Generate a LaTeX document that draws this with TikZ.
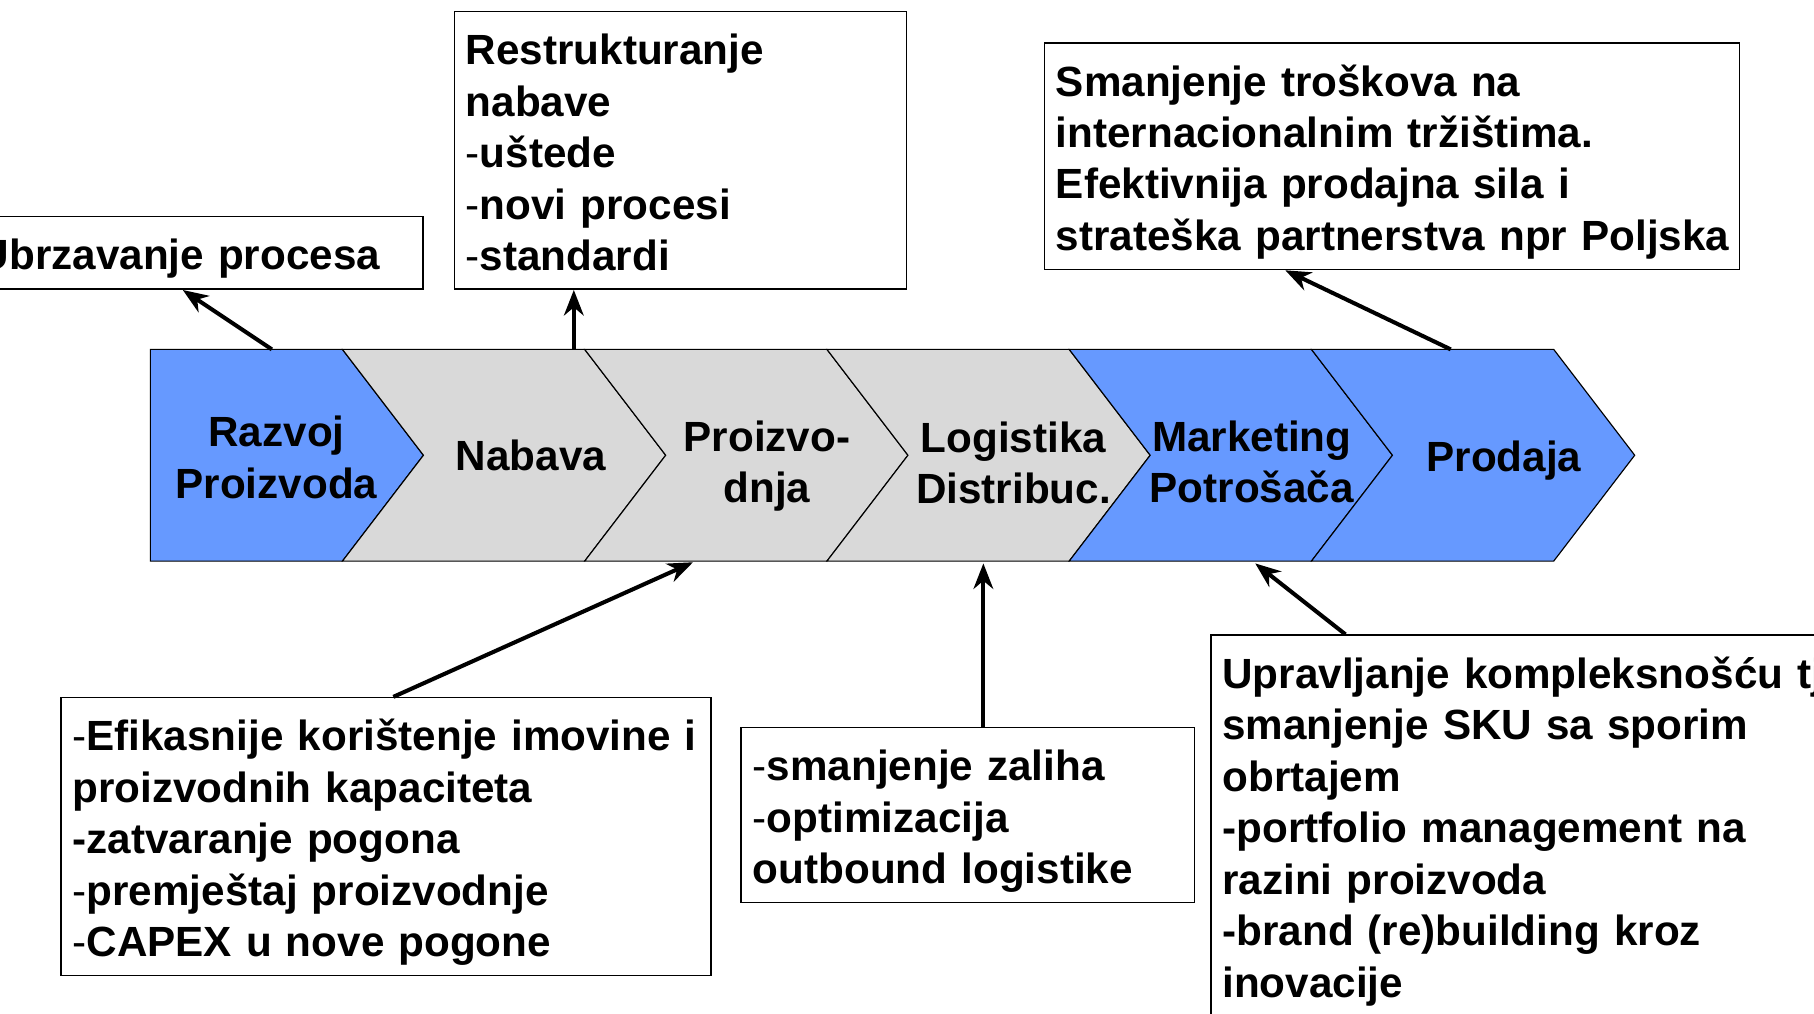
\documentclass[tikz,border=0pt]{standalone}
\usepackage{fontspec}
\setmainfont{Liberation Sans}
\usepackage{xcolor}
\usetikzlibrary{arrows.meta}

\definecolor{stageblue}{HTML}{6699FF}
\definecolor{stagegray}{HTML}{D9D9D9}
\newcommand{\hy}{{\mdseries -}}
\newcommand{\bigfont}{\fontsize{36.5}{44.5}\selectfont\bfseries}

\begin{document}
\begin{tikzpicture}[x=1pt,y=-1pt]
			\tikzstyle{stage} = [draw=black, line width=1pt, line join=miter]
			\tikzstyle{stagetext} = [font=\bigfont, align=center, inner sep=0pt]
			\tikzstyle{note} = [draw, line width=1.3pt, anchor=base west, align=left, inner xsep=10pt, inner ysep=0pt, text height=46pt, font=\bigfont]
			\tikzset{edge/.style = {line width=3.5pt, -{Stealth[length=22pt,width=17pt,inset=7pt]}}}
			
			\useasboundingbox (0,0) rectangle (1568,876);
			\clip (0,0) rectangle (1568,876);
			
			% value chain
			\path[stage, fill=stageblue] (130,302) -- (296,302) -- (366,393.5) -- (296,485) -- (130,485) -- cycle;
			\foreach \i/\col in {0/stagegray, 1/stagegray, 2/stagegray, 3/stageblue, 4/stageblue}
				\path[stage, fill=\col] ({296+209.4*\i},302) -- ({505.4+209.4*\i},302) -- ({575.4+209.4*\i},393.5)
					-- ({505.4+209.4*\i},485) -- ({296+209.4*\i},485) -- ({366+209.4*\i},393.5) -- cycle;
			
			\node[stagetext](razvoj) at (239,395.3) {Razvoj\\Proizvoda};
			\node[stagetext](nabava) at (459,393.7) {Nabava};
			\node[stagetext](proizvodnja) at (663,403) {Proizvo-\\dnja};
			\node[stagetext](logistika) at (876,400.3) {Logistika\\Distribuc.};
			\node[stagetext](marketing) at (1082,399.3) {Marketing\\Potrošača};
			\node[stagetext](prodaja) at (1300,398.5) {Prodaja};
			
			% notes
			\node[note, text width=374pt, text depth=17pt](ubrz) at (-29,233) {Ubrzavanje procesa};
			\node[note, text width=371pt, text depth=194pt](restr) at (392,56) {Restrukturanje\\nabave\\\hy uštede\\\hy novi procesi\\\hy standardi};
			\node[note, text width=581pt, text depth=150pt](smanj) at (902,83) {Smanjenje troškova na\\internacionalnim tržištima.\\Efektivnija prodajna sila i\\\mbox{strateška partnerstva npr Poljska}};
			\node[note, text width=542pt, text depth=194pt](efik) at (52,649) {\hy Efikasnije korištenje imovine i\\proizvodnih kapaciteta\\-zatvaranje pogona\\\hy premještaj proizvodnje\\\hy CAPEX u nove pogone};
			\node[note, text width=372pt, text depth=105pt](zaliha) at (640,675) {\hy smanjenje zaliha\\\hy optimizacija\\outbound logistike};
			\node[note, text width=600pt, text depth=320pt](uprav) at (1046,595) {Upravljanje kompleksnošću tj\\smanjenje SKU sa sporim\\obrtajem\\-portfolio management na\\razini proizvoda\\-brand (re)building kroz\\inovacije};
			
			% connectors
			\coordinate (t1) at (235,302);
			\coordinate (t2) at (496,302);
			\coordinate (t3) at (1254,302);
			\coordinate (h4) at (599,486);
			\coordinate (h5) at (850,487);
			\coordinate (h6) at (1085,487);
			\draw[edge](t1) to (ubrz.south -| 158,0);
			\draw[edge](t2) to (restr.south -| 496,0);
			\draw[edge](t3) to (smanj.south -| 1111,0);
			\draw[edge](efik.north -| 340,0) to (h4);
			\draw[edge](zaliha.north -| 850,0) to (h5);
			\draw[edge](uprav.north -| 1163,0) to (h6);
			
\end{tikzpicture}
\end{document}
